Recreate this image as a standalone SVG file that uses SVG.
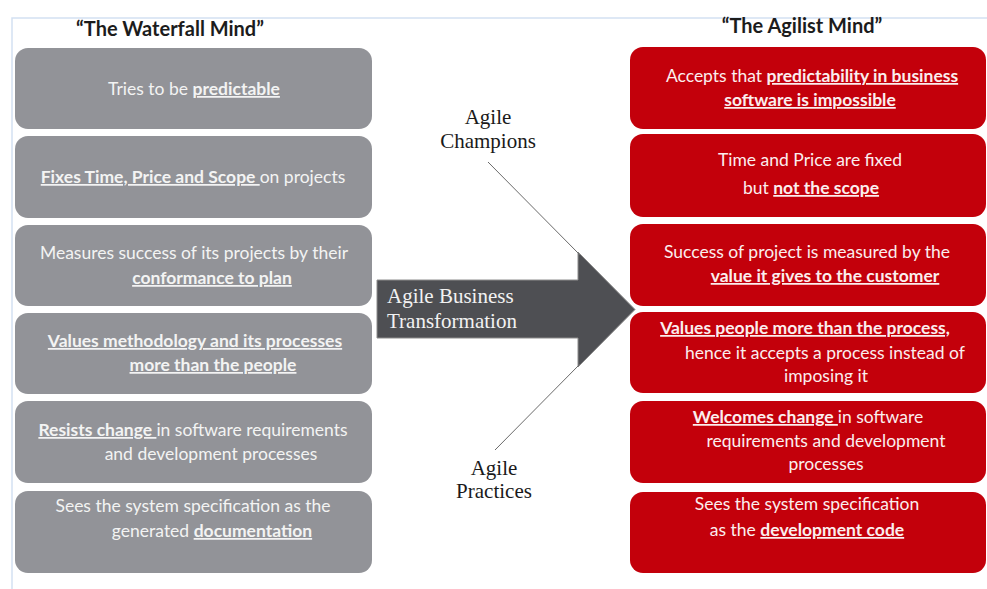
<svg xmlns="http://www.w3.org/2000/svg" width="987" height="589" viewBox="0 0 987 589">
<style>
.frame{stroke:#d3e1f2;stroke-width:1.5;fill:none}
.gbox{fill:#929398}
.rbox{fill:#c3000b}
.hdr{font-family:Lato,"Liberation Sans",sans-serif;font-weight:bold;font-size:20px;fill:#1c1c1c;text-anchor:middle}
.bt{font-family:Lato,"Liberation Sans",sans-serif;font-size:17.5px;fill:#f3f3f3;text-anchor:middle}
.rt{fill:#fbeeee}
.b{font-weight:bold;text-decoration:underline}
.serif{font-family:"Liberation Serif","Times New Roman",serif;font-size:21px;fill:#1a1a1a;text-anchor:middle}
.conn{stroke:#6a6a6a;stroke-width:1;fill:none}
</style>
<rect width="987" height="589" fill="#ffffff"/>
<path class="frame" d="M12 589 V18 H987"/>
<text class="hdr" x="170" y="36">“The Waterfall Mind”</text>
<text class="hdr" x="802" y="33">“The Agilist Mind”</text>

<g id="w1"><rect class="gbox" x="15" y="48" width="357" height="81" rx="13"/>
<text class="bt" x="194" y="95">Tries to be <tspan class="b">predictable</tspan></text></g>
<g id="w2"><rect class="gbox" x="15" y="136" width="357" height="82" rx="13"/>
<text class="bt" x="193" y="183"><tspan class="b">Fixes Time, Price and Scope </tspan>on projects</text></g>
<g id="w3"><rect class="gbox" x="15" y="225" width="357" height="81" rx="13"/>
<text class="bt" x="194" y="259">Measures success of its projects by their</text>
<text class="bt" x="212" y="284"><tspan class="b">conformance to plan</tspan></text></g>
<g id="w4"><rect class="gbox" x="15" y="313" width="357" height="81" rx="13"/>
<text class="bt" x="195" y="347"><tspan class="b">Values methodology and its processes</tspan></text>
<text class="bt" x="213" y="371"><tspan class="b">more than the people</tspan></text></g>
<g id="w5"><rect class="gbox" x="15" y="401" width="357" height="82" rx="13"/>
<text class="bt" x="193" y="436"><tspan class="b">Resists change </tspan>in software requirements</text>
<text class="bt" x="211" y="460">and development processes</text></g>
<g id="w6"><rect class="gbox" x="15" y="491" width="357" height="82" rx="13"/>
<text class="bt" x="193" y="512">Sees the system specification as the</text>
<text class="bt" x="212" y="537">generated <tspan class="b">documentation</tspan></text></g>

<g id="a1"><rect class="rbox" x="630" y="47" width="356" height="82" rx="13"/>
<text class="bt rt" x="812" y="82">Accepts that <tspan class="b">predictability in business</tspan></text>
<text class="bt rt" x="810" y="106"><tspan class="b">software is impossible</tspan></text></g>
<g id="a2"><rect class="rbox" x="630" y="134" width="356" height="83" rx="13"/>
<text class="bt rt" x="810" y="166">Time and Price are fixed</text>
<text class="bt rt" x="811" y="194">but <tspan class="b">not the scope</tspan></text></g>
<g id="a3"><rect class="rbox" x="630" y="224" width="356" height="82" rx="13"/>
<text class="bt rt" x="807" y="258">Success of project is measured by the</text>
<text class="bt rt" x="825" y="282"><tspan class="b">value it gives to the customer</tspan></text></g>
<g id="a4"><rect class="rbox" x="630" y="312" width="356" height="81" rx="13"/>
<text class="bt rt" x="805" y="334"><tspan class="b">Values people more than the process,</tspan></text>
<text class="bt rt" x="825" y="359">hence it accepts a process instead of</text>
<text class="bt rt" x="826" y="382">imposing it</text></g>
<g id="a5"><rect class="rbox" x="630" y="401" width="356" height="82" rx="13"/>
<text class="bt rt" x="808" y="423"><tspan class="b">Welcomes change </tspan>in software</text>
<text class="bt rt" x="826" y="447">requirements and development</text>
<text class="bt rt" x="826" y="470">processes</text></g>
<g id="a6"><rect class="rbox" x="630" y="492" width="356" height="81" rx="13"/>
<text class="bt rt" x="807" y="510">Sees the system specification</text>
<text class="bt rt" x="807" y="536">as the <tspan class="b">development code</tspan></text></g>

<g id="transformation">
<path d="M377 280 H578 V252 L635 309.5 L578 367 V338 H377 Z" fill="#4e4f53" stroke="#8c8c8c" stroke-width="1"/>
<text font-family="Liberation Serif,Times New Roman,serif" font-size="21" fill="#f2f2f2" x="387" y="303">Agile Business</text>
<text font-family="Liberation Serif,Times New Roman,serif" font-size="21" fill="#f2f2f2" x="387" y="328">Transformation</text>
</g>
<g id="champions">
<text class="serif" x="488" y="124">Agile</text>
<text class="serif" x="488" y="148">Champions</text>
</g>
<g id="practices">
<text class="serif" x="494" y="475">Agile</text>
<text class="serif" x="494" y="498">Practices</text>
</g>
<g id="connectors">
<line class="conn" x1="488" y1="162" x2="580" y2="255"/>
<line class="conn" x1="580" y1="364" x2="495" y2="450"/>
</g>
</svg>
